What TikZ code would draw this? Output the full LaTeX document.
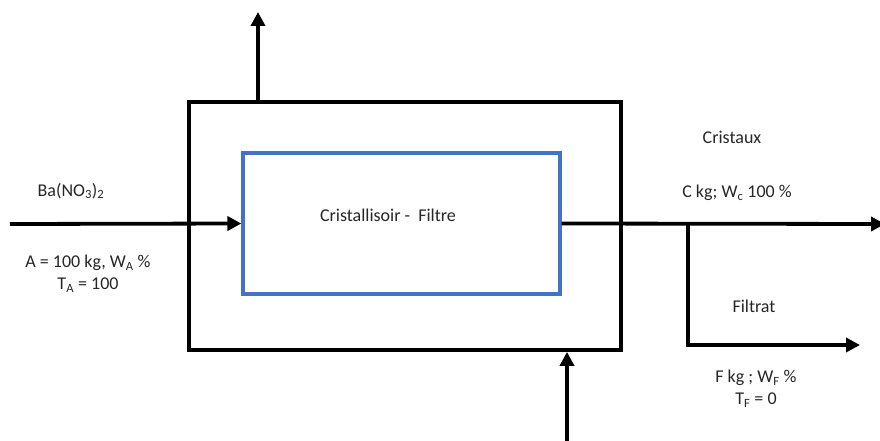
\documentclass[tikz,border=0pt]{standalone}
\usepackage{fontspec}
\setmainfont{Carlito}
\usetikzlibrary{arrows.meta,positioning}
\definecolor{bleu}{HTML}{4472C4}
\definecolor{texte}{HTML}{262626}

\begin{document}
\begin{tikzpicture}[x=1pt,y=-1pt,font=\fontsize{18}{22}\selectfont,
  box/.style={draw,line width=3.8pt,minimum width=432pt,minimum height=248pt},
  inner/.style={draw=bleu,line width=3.2pt,minimum width=317pt,minimum height=141pt},
  arr/.style={-{Triangle[length=14pt,width=14pt]},line width=3.8pt},
  lbl/.style={align=center,inner sep=1pt,text=texte}]
\useasboundingbox (0,0) rectangle (880,441);
\node[box] (outer) at (405,226) {};
\node[inner] (cf) at (401.5,223.5) {};
\node[lbl] (titre) at (388,215) {Cristallisoir -\ \ Filtre};
% courants
\coordinate (a) at (10,224);
\coordinate (c) at (885,224);
\coordinate (br) at (688,224);
\coordinate (f) at (860,345);
\coordinate (v) at (258,12);
\coordinate (w) at (567,441);
\draw[arr] (a) -- (cf.west);
\draw[arr] (cf.east) -- (c);
\draw[arr] (br) |- (f);
\draw[arr] (outer.north -| v) -- (v);
\draw[arr] (w) -- (outer.south -| w);
% textes
\node[lbl] (ba) at (71,191) {Ba(NO\textsubscript{3})\textsubscript{2}};
\node[lbl] (alim) at (88,274) {A = 100 kg,\ W\textsubscript{A} \%\\T\textsubscript{A} = 100};
\node[lbl] (cri) at (732,137) {Cristaux};
\node[lbl] (ckg) at (737,193) {C kg; W\textsubscript{c} 100 \%};
\node[lbl] (fil) at (754,306) {Filtrat};
\node[lbl] (fkg) at (756,389) {F kg ; W\textsubscript{F} \%\\T\textsubscript{F} = 0};
\end{tikzpicture}
\end{document}
